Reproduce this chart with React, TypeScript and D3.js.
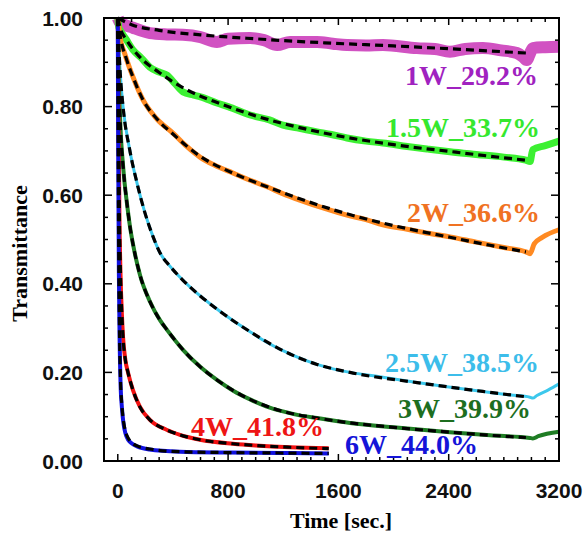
import React from "react";
import * as d3 from "d3";

// ---- data (time [sec], transmittance) ----
const data1W: [number, number][] = [
  [0, 1.0], [16, 0.99], [110, 0.978], [233, 0.966], [357, 0.963], [473, 0.962], [600, 0.957], [719, 0.946],
  [800, 0.953], [959, 0.955], [1060, 0.95], [1155, 0.939], [1250, 0.946], [1445, 0.946], [1560, 0.942],
  [1662, 0.939], [1800, 0.938], [1923, 0.939], [2170, 0.932], [2300, 0.93], [2409, 0.924], [2520, 0.93],
  [2648, 0.932], [2780, 0.927], [2894, 0.921], [2940, 0.912], [2966, 0.905], [2990, 0.92], [3010, 0.932],
  [3100, 0.934], [3200, 0.935],
];
const fit1W: [number, number][] = [
  [0, 1.0], [100, 0.985], [300, 0.972], [600, 0.962], [1000, 0.953], [1500, 0.944], [2000, 0.937],
  [2500, 0.929], [2960, 0.921],
];

const data15W: [number, number][] = [
  [0, 1.0], [8, 0.978], [16, 0.973], [60, 0.952], [110, 0.928], [170, 0.91], [233, 0.889], [300, 0.878],
  [357, 0.871], [420, 0.85], [473, 0.833], [550, 0.826], [600, 0.822], [719, 0.808], [800, 0.8],
  [959, 0.781], [1100, 0.77], [1198, 0.758], [1300, 0.752], [1445, 0.743], [1550, 0.737], [1662, 0.729],
  [1800, 0.722], [1923, 0.718], [2100, 0.71], [2250, 0.704], [2409, 0.698], [2600, 0.692], [2800, 0.686],
  [2960, 0.679], [2990, 0.676], [3010, 0.703], [3100, 0.712], [3200, 0.722],
];
const fit15W: [number, number][] = [
  [0, 1.0], [20, 0.975], [60, 0.952], [150, 0.915], [300, 0.877], [500, 0.838], [750, 0.806],
  [1000, 0.779], [1300, 0.754], [1600, 0.734], [2000, 0.714], [2400, 0.699], [2700, 0.688], [2960, 0.679],
];

const data2W: [number, number][] = [
  [0, 1.0], [8, 0.98], [16, 0.957], [50, 0.92], [110, 0.867], [183, 0.815], [284, 0.772], [400, 0.74],
  [500, 0.71], [596, 0.686], [700, 0.668], [835, 0.65], [950, 0.635], [1082, 0.619], [1200, 0.603],
  [1320, 0.589], [1500, 0.57], [1662, 0.555], [1800, 0.545], [1923, 0.533], [2100, 0.523], [2250, 0.514],
  [2409, 0.506], [2600, 0.494], [2800, 0.482], [2960, 0.472], [2990, 0.468], [3020, 0.49], [3080, 0.505],
  [3200, 0.522],
];
const fit2W: [number, number][] = [
  [0, 1.0], [20, 0.955], [60, 0.91], [110, 0.867], [183, 0.815], [284, 0.772], [400, 0.738], [596, 0.688],
  [835, 0.65], [1082, 0.619], [1320, 0.592], [1662, 0.558], [1923, 0.537], [2409, 0.505], [2700, 0.487],
  [2960, 0.472],
];

const data25W: [number, number][] = [
  [0, 1.0], [10, 0.92], [20, 0.865], [38, 0.8], [88, 0.7], [139, 0.628], [197, 0.56], [255, 0.507],
  [306, 0.47], [378, 0.44], [473, 0.408], [600, 0.372], [719, 0.343], [840, 0.316], [959, 0.292],
  [1080, 0.268], [1198, 0.249], [1320, 0.232], [1445, 0.218], [1560, 0.208], [1684, 0.2], [1900, 0.19],
  [2170, 0.177], [2400, 0.167], [2648, 0.157], [2850, 0.149], [2989, 0.144], [3010, 0.142], [3040, 0.148],
  [3120, 0.16], [3200, 0.174],
];
const fit25W: [number, number][] = [
  [0, 1.0], [10, 0.92], [20, 0.865], [38, 0.8], [88, 0.7], [139, 0.628], [197, 0.56], [255, 0.507],
  [306, 0.47], [378, 0.44], [473, 0.408], [600, 0.372], [719, 0.343], [840, 0.316], [959, 0.292],
  [1198, 0.249], [1445, 0.218], [1684, 0.2], [2170, 0.177], [2648, 0.157], [2960, 0.145],
];

const data3W: [number, number][] = [
  [0, 1.0], [5, 0.9], [16, 0.78], [40, 0.66], [67, 0.58], [88, 0.53], [110, 0.49], [161, 0.42],
  [233, 0.36], [306, 0.318], [357, 0.296], [473, 0.251], [600, 0.212], [719, 0.183], [840, 0.158],
  [959, 0.139], [1080, 0.123], [1198, 0.112], [1320, 0.103], [1445, 0.097], [1684, 0.086], [2000, 0.076],
  [2409, 0.065], [2700, 0.058], [2989, 0.052], [3010, 0.051], [3050, 0.056], [3200, 0.066],
];
const fit3W: [number, number][] = [
  [0, 1.0], [5, 0.9], [16, 0.78], [40, 0.66], [67, 0.58], [88, 0.53], [110, 0.49], [161, 0.42],
  [233, 0.36], [306, 0.318], [357, 0.296], [473, 0.251], [600, 0.212], [719, 0.183], [959, 0.139],
  [1198, 0.112], [1445, 0.097], [1684, 0.086], [2000, 0.076], [2409, 0.065], [2700, 0.058], [2960, 0.053],
];

const data4W: [number, number][] = [
  [0, 1.0], [5, 0.8], [12, 0.55], [20, 0.42], [30, 0.33], [38, 0.28], [55, 0.228], [74, 0.2], [110, 0.16],
  [161, 0.122], [233, 0.093], [357, 0.07], [451, 0.059], [596, 0.048], [835, 0.039], [1000, 0.035],
  [1250, 0.031], [1530, 0.029],
];
const fit4W: [number, number][] = [
  [0, 1.0], [5, 0.8], [12, 0.55], [20, 0.42], [30, 0.33], [38, 0.28], [55, 0.228], [74, 0.2], [110, 0.16],
  [161, 0.122], [233, 0.093], [357, 0.07], [451, 0.059], [596, 0.048], [835, 0.039], [1000, 0.035],
  [1250, 0.031], [1530, 0.028],
];

const data6W: [number, number][] = [
  [0, 1.0], [3, 0.7], [8, 0.42], [14, 0.26], [20, 0.175], [30, 0.12], [40, 0.088], [55, 0.063], [75, 0.048],
  [100, 0.04], [140, 0.033], [230, 0.026], [450, 0.021], [800, 0.019], [1200, 0.018], [1530, 0.017],
];
const fit6W: [number, number][] = [
  [0, 1.0], [3, 0.7], [8, 0.42], [14, 0.26], [20, 0.18], [30, 0.125], [40, 0.093], [55, 0.068], [75, 0.052],
  [100, 0.042], [140, 0.034], [230, 0.027], [450, 0.021], [800, 0.019], [1200, 0.018], [1530, 0.017],
];

const seriesNames = ["1W_29.2%", "1.5W_33.7%", "2W_36.6%", "2.5W_38.5%", "3W_39.9%", "4W_41.8%", "6W_44.0%"];
const yTicks = [0, 0.2, 0.4, 0.6, 0.8, 1.0];
const xTicks = [0, 800, 1600, 2400, 3200];

const series = [
  { name: seriesNames[0], data: data1W, fit: fit1W, color: "#d152c2", text: "#a022c0", width: 12, lx: 538, ly: 85 },
  { name: seriesNames[1], data: data15W, fit: fit15W, color: "#3cf032", text: "#35e82e", width: 7, lx: 540, ly: 137 },
  { name: seriesNames[2], data: data2W, fit: fit2W, color: "#ff8a22", text: "#f07222", width: 5, lx: 540, ly: 222 },
  { name: seriesNames[3], data: data25W, fit: fit25W, color: "#3cc8ec", text: "#3cbdea", width: 3, lx: 539, ly: 372 },
  { name: seriesNames[4], data: data3W, fit: fit3W, color: "#1f7d24", text: "#1d6e1f", width: 4, lx: 531, ly: 418 },
  { name: seriesNames[5], data: data4W, fit: fit4W, color: "#f21010", text: "#ee1515", width: 4, lx: 324, ly: 436 },
  { name: seriesNames[6], data: data6W, fit: fit6W, color: "#1010e0", text: "#1414d8", width: 4, lx: 478, ly: 454 },
];

const W = 587;
const H = 538;
const left = 104, right = 559, top = 18, bottom = 461;

export default function App() {
  const x = d3.scaleLinear().domain([-100, 3200]).range([left, right]);
  const y = d3.scaleLinear().domain([0, 1]).range([bottom, top]);
  const line = d3
    .line<[number, number]>()
    .x((d) => x(d[0]))
    .y((d) => y(d[1]))
    .curve(d3.curveMonotoneX);

  const yMinor = d3.range(0, 1.0001, 0.05).filter((v) => v > 0.001 && v < 0.999);
  const xMinor = d3.range(0, 3101, 100);
  const isMajorY = (v: number) => Math.abs(v * 5 - Math.round(v * 5)) < 1e-6;

  const sans = "'Liberation Sans', Arial, sans-serif";
  const serif = "'Liberation Serif', 'Times New Roman', serif";

  return (
    <svg width={W} height={H} style={{ position: "absolute", left: 0, top: 0, background: "#fff" }}>
      <rect x={0} y={0} width={W} height={H} fill="#fff" />
      {/* data */}
      {series.map((s) => (
        <path key={"d" + s.name} d={line(s.data) || ""} fill="none" stroke={s.color} strokeWidth={s.width} strokeLinejoin="round" />
      ))}
      {/* fits */}
      {series.map((s) => (
        <path key={"f" + s.name} d={line(s.fit) || ""} fill="none" stroke="#000" strokeWidth={3.2} strokeDasharray="8 5" />
      ))}
      {/* frame */}
      <rect x={left} y={top} width={right - left} height={bottom - top} fill="none" stroke="#000" strokeWidth={2} />
      {/* y ticks */}
      {yMinor.map((v) => {
        const len = isMajorY(v) ? 8 : 4;
        return (
          <g key={"yt" + v}>
            <line x1={left} x2={left + len} y1={y(v)} y2={y(v)} stroke="#000" strokeWidth={1.5} />
            <line x1={right} x2={right - len} y1={y(v)} y2={y(v)} stroke="#000" strokeWidth={1.5} />
          </g>
        );
      })}
      {/* x ticks */}
      {xMinor.map((v) => {
        const len = v % 800 === 0 ? 7 : 4;
        return (
          <g key={"xt" + v}>
            <line x1={x(v)} x2={x(v)} y1={bottom} y2={bottom - len} stroke="#000" strokeWidth={1.5} />
            <line x1={x(v)} x2={x(v)} y1={top} y2={top + len} stroke="#000" strokeWidth={1.5} />
          </g>
        );
      })}
      {/* tick labels */}
      {yTicks.map((v) => (
        <text key={"yl" + v} x={83} y={y(v)} dy="0.36em" textAnchor="end" fontFamily={sans} fontWeight="bold" fontSize={21} fill="#111">
          {v.toFixed(2)}
        </text>
      ))}
      {xTicks.map((v) => (
        <text key={"xl" + v} x={x(v)} y={498} textAnchor="middle" fontFamily={sans} fontWeight="bold" fontSize={21} fill="#111">
          {v}
        </text>
      ))}
      {/* axis titles */}
      <text x={341} y={528} textAnchor="middle" fontFamily={serif} fontWeight="bold" fontSize={22} fill="#000">
        Time [sec.]
      </text>
      <text transform={`translate(27, ${(top + bottom) / 2 + 14}) rotate(-90)`} textAnchor="middle" fontFamily={serif} fontWeight="bold" fontSize={22} fill="#000">
        Transmittance
      </text>
      {/* series labels */}
      {series.map((s) => (
        <text key={"l" + s.name} x={s.lx} y={s.ly} textAnchor="end" fontFamily={serif} fontWeight="bold" fontSize={28} fill={s.text}>
          {s.name}
        </text>
      ))}
    </svg>
  );
}
